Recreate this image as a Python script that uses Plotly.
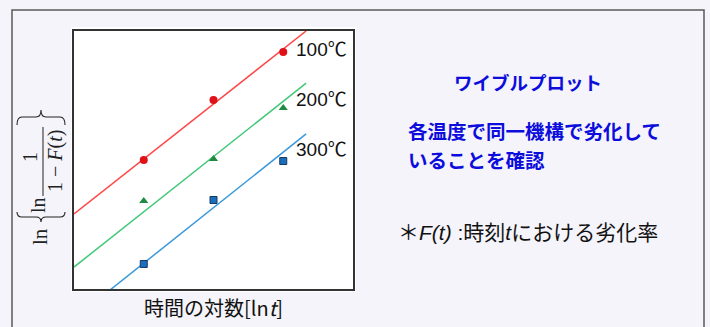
import plotly.graph_objects as go

# ---- data ----
ln_t = [2.5, 5.0, 7.5]
y_100 = [5.0, 7.33, 9.19]
y_200 = [3.41, 5.04, 7.02]
y_300 = [0.97, 3.45, 4.96]
fit_x = [0.0, 8.32]
fit_100 = [2.91, 10.0]
fit_200 = [0.85, 7.98]
fit_300 = [-1.15, 6.01]
series_labels = ["100℃", "200℃", "300℃"]

W, H = 710, 327
L, R, T, B = 74, 353, 31, 289  # plot frame in pixels


def px(xp):
    return (xp - L) / (R - L)


def py(yp):
    return (B - yp) / (B - T)


SANS = "Liberation Sans, Arial, Noto Sans CJK JP, sans-serif"
CJK = "Noto Sans CJK JP, Liberation Sans, sans-serif"
SERIF = "Liberation Serif, DejaVu Serif, serif"

fig = go.Figure()

line_cols = ["#ff4646", "#40c878", "#3a98da"]
fits = [fit_100, fit_200, fit_300]
for f, c in zip(fits, line_cols):
    fig.add_trace(go.Scatter(x=fit_x, y=f, mode="lines",
                             line=dict(color=c, width=1.5),
                             hoverinfo="skip", showlegend=False))

fig.add_trace(go.Scatter(x=ln_t, y=y_100, mode="markers", showlegend=False,
                         marker=dict(symbol="circle", size=8, color="#e01018",
                                     line=dict(width=0))))
fig.add_trace(go.Scatter(x=ln_t, y=y_200, mode="markers", showlegend=False,
                         marker=dict(symbol="triangle-up", size=8, color="#1f8a40",
                                     line=dict(width=0))))
fig.add_trace(go.Scatter(x=ln_t, y=y_300, mode="markers", showlegend=False,
                         marker=dict(symbol="square", size=7, color="#1a6ec0",
                                     line=dict(width=1, color="#163a5c"))))

ann = []
# series labels
for lab, yy in zip(series_labels, [9.30, 7.33, 5.39]):
    ann.append(dict(x=7.90, y=yy, xref="x", yref="y", text=lab, showarrow=False,
                    xanchor="left", yanchor="middle",
                    font=dict(family=SANS, size=19, color="#111111")))

# x axis label
ann.append(dict(x=px(213), y=py(307), xref="paper", yref="paper",
                text="時間の対数[ln<i>t</i>]", showarrow=False,
                xanchor="center", yanchor="middle",
                font=dict(family=CJK, size=20, color="#111111")))

# y axis label pieces (rotated)
def rot(text, xp, yp, size):
    return dict(x=px(xp), y=py(yp), xref="paper", yref="paper", text=text,
                showarrow=False, textangle=-90, xanchor="center", yanchor="middle",
                font=dict(family=SERIF, size=size, color="#222222"))

ann.append(rot("ln", 40, 237, 21))
ann.append(rot("ln", 38, 205, 20))
ann.append(rot("1", 30, 157, 20))
ann.append(rot("1 − <i>F</i>(<i>t</i>)", 55, 161, 20))

# right side texts
BLUE = "#0c0cdc"
ann.append(dict(x=px(528), y=py(82), xref="paper", yref="paper",
                text="<b>ワイブルプロット</b>", showarrow=False,
                xanchor="center", yanchor="middle",
                font=dict(family=CJK, size=18.5, color=BLUE)))
ann.append(dict(x=px(406), y=py(130.5), xref="paper", yref="paper",
                text="<b>各温度で同一機構で劣化して</b>", showarrow=False,
                xanchor="left", yanchor="middle",
                font=dict(family=CJK, size=19.5, color=BLUE)))
ann.append(dict(x=px(406), y=py(159), xref="paper", yref="paper",
                text="<b>いることを確認</b>", showarrow=False,
                xanchor="left", yanchor="middle",
                font=dict(family=CJK, size=19.5, color=BLUE)))
ann.append(dict(x=px(396), y=py(232), xref="paper", yref="paper",
                text="＊<i>F(t)</i> :時刻<i>t</i>における劣化率", showarrow=False,
                xanchor="left", yanchor="middle",
                font=dict(family=SANS, size=21, color="#111111")))


def path_from(points_cmds):
    out = []
    for cmd, pts in points_cmds:
        coords = " ".join(f"{px(a):.5f},{py(b):.5f}" for a, b in pts)
        out.append(f"{cmd} {coords}")
    return " ".join(out)


under_brace = path_from([
    ("M", [(17, 212)]), ("Q", [(17, 217), (22, 217)]), ("L", [(36, 217)]),
    ("Q", [(41, 217), (41, 222)]), ("Q", [(41, 217), (46, 217)]),
    ("L", [(60, 217)]), ("Q", [(65, 217), (65, 212)])])
over_brace = path_from([
    ("M", [(17, 125)]), ("Q", [(17, 117), (22, 117)]), ("L", [(36, 117)]),
    ("Q", [(41, 117), (41, 110)]), ("Q", [(41, 117), (46, 117)]),
    ("L", [(60, 117)]), ("Q", [(65, 117), (65, 125)])])

shapes = [
    # outer frame of the slide panel
    dict(type="rect", xref="paper", yref="paper", x0=px(12), x1=px(704),
         y0=py(340), y1=py(10), line=dict(color="#5a5a5a", width=1.5),
         fillcolor="rgba(0,0,0,0)", layer="below"),
    # white pad around plot
    dict(type="rect", xref="paper", yref="paper", x0=px(71), x1=px(356),
         y0=py(292), y1=py(27), line=dict(width=0), fillcolor="white", layer="below"),
    # fraction bar
    dict(type="line", xref="paper", yref="paper", x0=px(43), x1=px(43),
         y0=py(127), y1=py(196), line=dict(color="#222222", width=1)),
    dict(type="path", xref="paper", yref="paper", path=under_brace,
         line=dict(color="#222222", width=1.1)),
    dict(type="path", xref="paper", yref="paper", path=over_brace,
         line=dict(color="#222222", width=1.1)),
]

axis_common = dict(range=[0, 10], showgrid=False, zeroline=False, showticklabels=False,
                   ticks="", showline=True, mirror=True, linecolor="#333333", linewidth=1.5)

fig.update_layout(
    width=W, height=H,
    margin=dict(l=L, r=W - R, t=T, b=H - B),
    paper_bgcolor="#f4f4fa", plot_bgcolor="white",
    xaxis=axis_common, yaxis=axis_common,
    annotations=ann, shapes=shapes, showlegend=False,
)

fig.write_html("out.html")
